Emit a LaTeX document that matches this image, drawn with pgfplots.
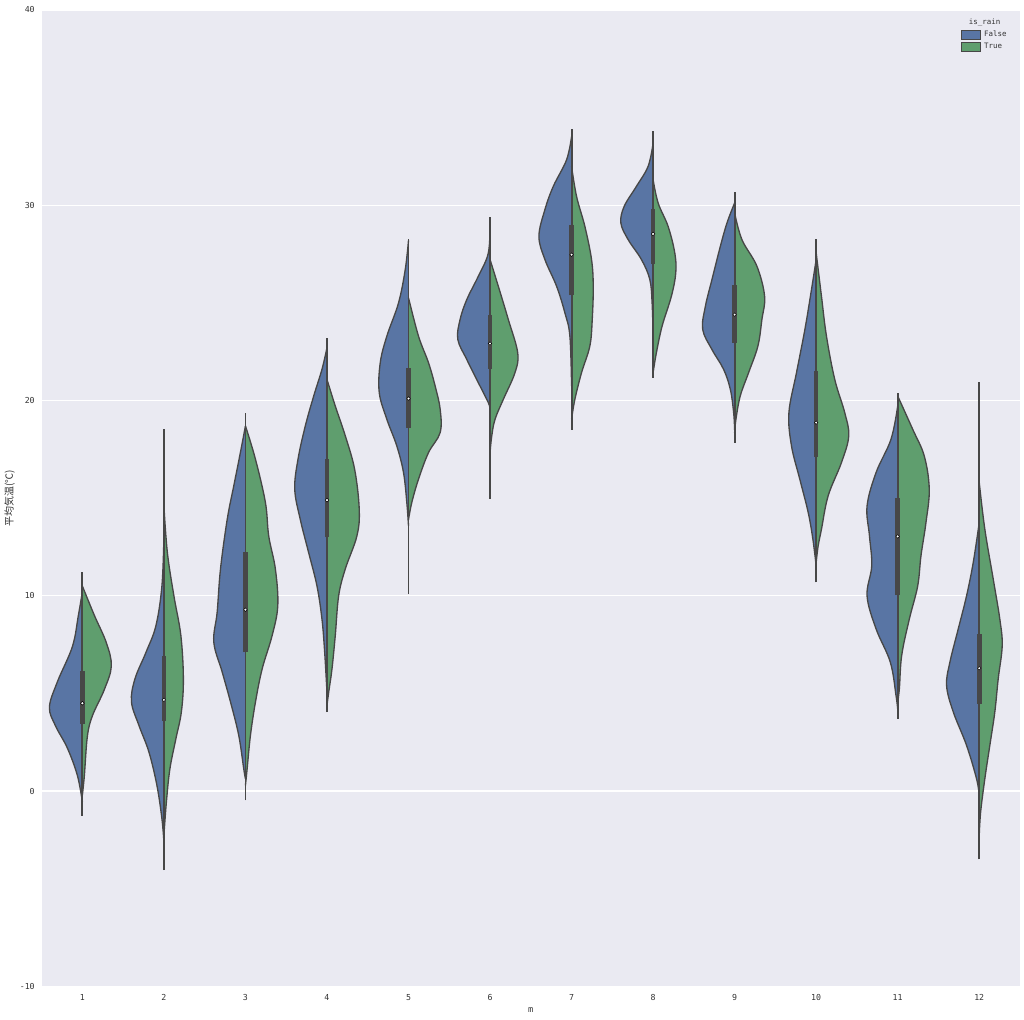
\documentclass[border=0pt]{standalone}
\usepackage{pgfplots}
\usepackage{pgfplotstable}
\pgfplotsset{compat=1.18}
\usepackage{fontspec}
\setmainfont{DejaVu Sans Mono}
\newfontfamily\jp{Noto Sans CJK JP}
\definecolor{bg}{HTML}{EAEAF2}
\definecolor{cb}{HTML}{5975A4}
\definecolor{cg}{HTML}{5F9E6E}
\definecolor{edge}{HTML}{474747}
\definecolor{txt}{HTML}{333333}

% month 1
\pgfplotstableread{
v w
10.2 0
9.0 4
7.4 10
5.6 25
4.3 33
3.35 27
2.2 15
0.8 5
-0.55 0
}\mAb
\pgfplotstableread{
v w
10.5 0
9.0 12
7.6 24
6.4 29
5.2 22
3.85 10
2.8 5
0.8 2
-0.2 0
}\mAg
% month 2
\pgfplotstableread{
v w
13.0 0
10.5 2
8.47 8
7.1 18
5.75 29
4.57 32.5
3.36 25
2.0 15
0.29 7
-1.41 2
-2.6 0
}\mBb
\pgfplotstableread{
v w
14.6 0
12.2 3.5
10.0 10
7.96 17
5.75 19.5
4.06 17.5
2.68 12
1.14 6
-0.55 2.5
-2.26 0
}\mBg
% month 3
\pgfplotstableread{
v w
18.7 0
17.35 5
15.63 11.7
13.9 18.3
11.37 25
9.17 28.3
7.63 31.7
6.1 23.3
4.57 15
2.85 6.7
1.14 1.7
0.63 0
}\mCb
\pgfplotstableread{
v w
18.7 0
17.0 10
14.78 20
13.07 23.3
11.37 30
9.5 32.4
7.96 26.7
6.25 16.7
4.55 10
2.85 5
1.14 1.7
0.29 0
}\mCg
% month 4
\pgfplotstableread{
v w
22.7 0
21.6 5
20.23 13.3
18.7 21.7
17.0 29
15.46 32.3
13.9 26.7
12.2 18.3
10.5 10
8.8 5
7.11 2.3
5.06 0
}\mDb
\pgfplotstableread{
v w
21.08 0
19.72 8.3
18.2 18.3
16.48 27.7
14.44 32.3
13.07 30
11.37 18.3
10.0 11.7
7.96 8.3
6.25 5
5.06 1.7
4.38 0
}\mDg
% month 5
\pgfplotstableread{
v w
28.2 0
26.7 3.3
25.0 10
23.3 21.7
21.94 28.3
20.4 29.3
19.04 21.7
17.67 11.7
16.31 5
14.78 1.7
13.58 0
}\mEb
\pgfplotstableread{
v w
25.26 0
23.3 10
21.94 20
20.74 26.7
19.56 31.7
18.36 31.7
17.33 20
15.97 10
14.78 3.3
13.9 0
}\mEg
% month 6
\pgfplotstableread{
v w
29.09 0
27.56 1.7
26.37 11.7
25.17 23.3
24.15 30
23.13 32.3
22.1 23.3
20.91 11.7
19.89 1.7
19.55 0
}\mFb
\pgfplotstableread{
v w
27.22 0
25.85 8.3
24.15 18.3
22.45 27.7
21.43 25
20.06 13.3
19.04 5
18.18 1.7
17.33 0
}\mFg
% month 7
\pgfplotstableread{
v w
33.52 0
32.33 5
30.97 18.3
29.78 26.7
28.41 32.7
27.22 26.7
25.85 15
24.49 6.7
23.3 1.7
20.74 0
}\mGb
\pgfplotstableread{
v w
31.99 0
30.45 5
28.92 13.3
27.22 20
25.85 21.7
24.15 20.7
22.79 18.3
21.43 10
20.06 3.3
19.04 0
}\mGg
% month 8
\pgfplotstableread{
v w
33.18 0
31.99 5
30.97 16.7
29.94 29
29.09 32.3
28.24 25
27.22 11.7
26.2 3.3
25.0 1
23.3 0
}\mHb
\pgfplotstableread{
v w
31.31 0
30.12 5
28.92 15
27.56 21.7
26.54 22.7
25.34 18.3
23.81 9
22.45 3.3
21.43 0
}\mHg
% month 9
\pgfplotstableread{
v w
30.12 0
29.09 7.7
27.9 14.3
26.2 22.7
24.83 29.3
23.64 32
22.61 22.7
21.59 11
20.57 4.3
19.38 1
18.5 0
}\mIb
\pgfplotstableread{
v w
29.6 0
28.24 7.3
26.88 22.3
25.34 30
24.15 27.3
22.79 23.3
21.43 14
20.23 5.6
19.04 1.3
18.36 0
}\mIg
% month 10
\pgfplotstableread{
v w
27.22 0
25.68 4.7
23.64 11.3
21.43 19.7
19.38 27.3
17.67 24.7
15.97 16.4
14.27 8
12.9 3.3
11.54 0
}\mJb
\pgfplotstableread{
v w
27.56 0
25.34 5.3
23.3 10.3
21.08 18.6
19.38 28.6
18.18 32.6
16.82 25.3
15.12 12
13.41 5.3
12.56 2
11.71 0
}\mJg
% month 11
\pgfplotstableread{
v w
19.72 0
18.02 6.7
16.31 21.7
14.6 30.7
13.07 28.3
11.54 26
10.0 30.7
8.31 21.7
6.6 7.4
4.9 1.7
4.2 0
}\mKb
\pgfplotstableread{
v w
20.23 0
18.53 15
17.16 26.6
15.46 31.6
13.75 28.3
12.05 23.3
10.5 20
8.8 11.6
6.95 4
5.27 1.7
4.55 0
}\mKg
% month 12
\pgfplotstableread{
v w
13.75 0
11.71 6
10.0 12.7
8.31 21
6.6 29.4
5.4 32.7
4.05 26
2.34 12.7
0.63 2.7
-0.21 0
}\mLb
\pgfplotstableread{
v w
15.8 0
13.41 5.6
10.86 14
8.81 20.6
7.45 23
5.75 19
4.05 15.6
2.34 10.6
0.63 5.6
-1.07 1.4
-2.26 0
}\mLg

\pgfplotsset{
  vb/.style={forget plot, smooth, tension=0.6, fill=cb, draw=edge, line width=1pt, line join=round},
  vg/.style={forget plot, smooth, tension=0.6, fill=cg, draw=edge, line width=1pt, line join=round},
  whisk/.style={forget plot, draw=edge, line width=1.4pt},
  boxs/.style={forget plot, draw=edge, line width=3.4pt, line cap=butt},
}

\begin{document}
\begin{tikzpicture}
\begin{axis}[
  name=ax,
  scale only axis,
  width=735pt, height=733.5pt,
  xmin=0.5, xmax=12.5, ymin=-10, ymax=40,
  axis background/.style={fill=bg},
  axis line style={draw=none},
  tick style={draw=none},
  major tick length=0pt,
  ymajorgrids=true,
  grid style={white, line width=0.9pt},
  xtick={1,2,3,4,5,6,7,8,9,10,11,12},
  xticklabels={1,2,3,4,5,6,7,8,9,10,11,12},
  ytick={-10,0,10,20,30,40},
  yticklabels={-10,0,10,20,30,40},
  ticklabel style={font=\fontsize{6.2}{7}\selectfont, text=txt},
  yticklabel style={inner sep=0pt, xshift=-5pt},
  xticklabel style={inner sep=0pt, yshift=-6pt},
  xlabel={m},
  ylabel={{\jp 平均気温(℃)}},
  every axis x label/.style={at={(axis description cs:0.5,-0.0245)}, anchor=center, font=\fontsize{6.5}{7}\selectfont, text=txt},
  every axis y label/.style={at={(axis description cs:-0.0327,0.5)}, anchor=center, rotate=90, font=\fontsize{7.5}{8}\selectfont, text=txt},
  legend style={at={(axis description cs:0.992,0.995)}, anchor=north east, draw=none, fill=none,
    font=\fontsize{5.6}{6.5}\selectfont, text=txt, row sep=1.2pt, nodes={inner sep=1pt}},
  legend cell align=left,
  legend image code/.code={\draw[#1, line width=0.6pt] (0pt,-3.6pt) rectangle (14pt,3.6pt);},
  clip=false,
]
\addlegendimage{empty legend}
\addlegendentry{\hspace*{-10pt}is\_rain}
\addlegendimage{fill=cb, draw=edge}
\addlegendentry{\hspace*{1.5pt}False}
\addlegendimage{fill=cg, draw=edge}
\addlegendentry{\hspace*{1.5pt}True}

% violins
\addplot[vb] table[x expr=1-\thisrow{w}/81.67, y=v] {\mAb};
\addplot[vg] table[x expr=1+\thisrow{w}/81.67, y=v] {\mAg};
\addplot[vb] table[x expr=2-\thisrow{w}/81.67, y=v] {\mBb};
\addplot[vg] table[x expr=2+\thisrow{w}/81.67, y=v] {\mBg};
\addplot[vb] table[x expr=3-\thisrow{w}/81.67, y=v] {\mCb};
\addplot[vg] table[x expr=3+\thisrow{w}/81.67, y=v] {\mCg};
\addplot[vb] table[x expr=4-\thisrow{w}/81.67, y=v] {\mDb};
\addplot[vg] table[x expr=4+\thisrow{w}/81.67, y=v] {\mDg};
\addplot[vb] table[x expr=5-\thisrow{w}/81.67, y=v] {\mEb};
\addplot[vg] table[x expr=5+\thisrow{w}/81.67, y=v] {\mEg};
\addplot[vb] table[x expr=6-\thisrow{w}/81.67, y=v] {\mFb};
\addplot[vg] table[x expr=6+\thisrow{w}/81.67, y=v] {\mFg};
\addplot[vb] table[x expr=7-\thisrow{w}/81.67, y=v] {\mGb};
\addplot[vg] table[x expr=7+\thisrow{w}/81.67, y=v] {\mGg};
\addplot[vb] table[x expr=8-\thisrow{w}/81.67, y=v] {\mHb};
\addplot[vg] table[x expr=8+\thisrow{w}/81.67, y=v] {\mHg};
\addplot[vb] table[x expr=9-\thisrow{w}/81.67, y=v] {\mIb};
\addplot[vg] table[x expr=9+\thisrow{w}/81.67, y=v] {\mIg};
\addplot[vb] table[x expr=10-\thisrow{w}/81.67, y=v] {\mJb};
\addplot[vg] table[x expr=10+\thisrow{w}/81.67, y=v] {\mJg};
\addplot[vb] table[x expr=11-\thisrow{w}/81.67, y=v] {\mKb};
\addplot[vg] table[x expr=11+\thisrow{w}/81.67, y=v] {\mKg};
\addplot[vb] table[x expr=12-\thisrow{w}/81.67, y=v] {\mLb};
\addplot[vg] table[x expr=12+\thisrow{w}/81.67, y=v] {\mLg};

% whiskers
\addplot[whisk] coordinates {(1,-1.26) (1,11.2)};
\addplot[whisk] coordinates {(2,-4.05) (2,18.53)};
\addplot[whisk] coordinates {(3,-0.48) (3,19.34)};
\addplot[whisk] coordinates {(4,4.04) (4,23.21)};
\addplot[whisk] coordinates {(5,10.09) (5,28.28)};
\addplot[whisk] coordinates {(6,14.98) (6,29.4)};
\addplot[whisk] coordinates {(7,18.5) (7,33.9)};
\addplot[whisk] coordinates {(8,21.17) (8,33.81)};
\addplot[whisk] coordinates {(9,17.85) (9,30.66)};
\addplot[whisk] coordinates {(10,10.69) (10,28.28)};
\addplot[whisk] coordinates {(11,3.7) (11,20.37)};
\addplot[whisk] coordinates {(12,-3.49) (12,20.94)};

% boxes
\addplot[boxs] coordinates {(1,3.45) (1,6.15)};
\addplot[boxs] coordinates {(2,3.61) (2,6.94)};
\addplot[boxs] coordinates {(3,7.11) (3,12.22)};
\addplot[boxs] coordinates {(4,12.99) (4,17.0)};
\addplot[boxs] coordinates {(5,18.61) (5,21.68)};
\addplot[boxs] coordinates {(6,21.63) (6,24.4)};
\addplot[boxs] coordinates {(7,25.38) (7,29.0)};
\addplot[boxs] coordinates {(8,27.01) (8,29.81)};
\addplot[boxs] coordinates {(9,22.96) (9,25.94)};
\addplot[boxs] coordinates {(10,17.11) (10,21.52)};
\addplot[boxs] coordinates {(11,10.04) (11,15.0)};
\addplot[boxs] coordinates {(12,4.47) (12,8.07)};

% medians
\addplot[forget plot, only marks, mark=*, mark size=1.35pt, mark options={fill=white, draw=none}]
  coordinates {(1,4.5) (2,4.67) (3,9.29) (4,14.9) (5,20.1) (6,22.92) (7,27.47) (8,28.53) (9,24.4) (10,18.87) (11,13.04) (12,6.29)};
\end{axis}
\path ([shift={(-30pt,-24.75pt)}]ax.south west) rectangle ([shift={(3pt,7.5pt)}]ax.north east);
\end{tikzpicture}
\end{document}
